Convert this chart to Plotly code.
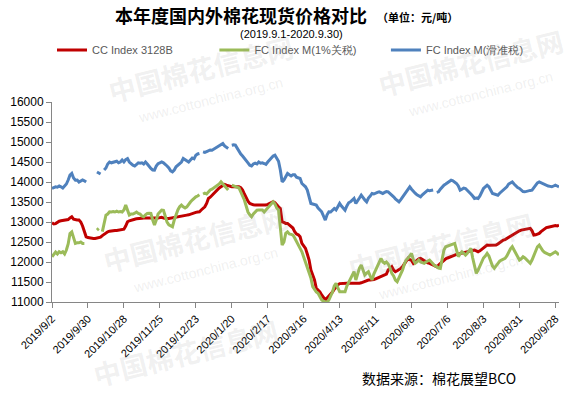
import pandas as pd
import plotly.graph_objects as go

# ---------------- data ----------------
dates = pd.bdate_range("2019-09-02", "2020-09-30")
categories = [f"{d.year}/{d.month}/{d.day}" for d in dates]

tick_labels = ["2019/9/2", "2019/9/30", "2019/10/28", "2019/11/25", "2019/12/23",
               "2020/1/20", "2020/2/17", "2020/3/16", "2020/4/13", "2020/5/11",
               "2020/6/8", "2020/7/6", "2020/8/3", "2020/8/31", "2020/9/28"]

series_names = ["CC Index 3128B", "FC Index M(1%关税)", "FC Index M(滑准税)"]

cc_index = [
    12980, 12950, 12960, 13000, 13020, 13030, 13040, 13050, 13050, 13060,
    13100, 13130, 13070, 13050, 13050, 13050, 13000, 12900, 12750, 12630,
    12610, 12600, 12600, 12590, 12590, 12600, 12600, 12620, 12660, 12700,
    12740, 12755, 12770, 12780, 12780, 12790, 12790, 12798, 12800, 12800,
    12820, 12900, 13005, 13030, 13050, 13060, 13070, 13080, 13090, 13090,
    13095, 13100, 13100, 13100, 13100, 13095, 13090, 13090, 13090, 13100,
    13110, 13120, 13100, 13090, 13090, 13090, 13100, 13110, 13120, 13130,
    13130, 13140, 13150, 13160, 13170, 13172, 13180, 13200, 13220, 13230,
    13240, 13250, 13255, 13300, 13350, 13380, 13464, 13589, 13620, 13671,
    13720, 13754, 13800, 13850, 13880, 13920, 13940, 13920, 13900, 13880,
    13880, 13880, 13880, 13880, 13880, 13860, 13800, 13700, 13600, 13520,
    13464, 13440, 13430, 13422, 13420, 13420, 13422, 13420, 13420, 13422,
    13440, 13460, 13480, 13505, 13480, 13420, 13380, 13340, 13005, 12990,
    12965, 12965, 12930, 12900, 12850, 12755, 12700, 12680, 12630, 12465,
    12400, 12340, 12200, 12049, 11800, 11675, 11550, 11342, 11300, 11250,
    11175, 11100, 11050, 11100, 11150, 11175, 11250, 11320, 11383, 11430,
    11460, 11467, 11467, 11467, 11470, 11467, 11467, 11460, 11467, 11467,
    11467, 11470, 11480, 11500, 11520, 11540, 11550, 11550, 11550, 11560,
    11580, 11600, 11633, 11650, 11670, 11675, 11700, 11800, 11841, 11883,
    11800, 11758, 11780, 11800, 11840, 11883, 11950, 12030, 12091, 12060,
    12040, 11966, 12000, 12050, 12080, 12091, 12060, 12030, 12000, 11980,
    11966, 11940, 11920, 11900, 11883, 11920, 11960, 12000, 12049, 12080,
    12100, 12120, 12150, 12170, 12174, 12190, 12200, 12210, 12216, 12230,
    12240, 12250, 12257, 12270, 12290, 12298, 12280, 12257, 12280, 12320,
    12360, 12400, 12423, 12420, 12420, 12423, 12430, 12423, 12450, 12490,
    12520, 12548, 12560, 12590, 12620, 12650, 12673, 12700, 12730, 12760,
    12780, 12798, 12810, 12820, 12830, 12840, 12840, 12780, 12673, 12680,
    12700, 12715, 12760, 12800, 12840, 12860, 12870, 12881, 12890, 12900,
    12910, 12900, 12923,
]

fc_index_1pct = [
    12130, 12200, 12250, 12200, 12256, 12230, 12256, 12200, 12300, 12450,
    12715, 12755, 12600, 12465, 12480, 12480, 12500, 12465, 12465, None,
    None, None, None, None, None, 12798, 12840, None, 12760, 12950,
    13172, 13200, 13255, 13250, 13260, 13250, 13270, 13250, 13260, 13250,
    13300, 13422, 13300, 13172, 13200, 13200, 13220, 13250, 13215, 13200,
    13150, 13130, 13180, 13215, 13220, 13215, 13050, 12923, 13050, 13200,
    13250, 13297, 13290, 13150, 13000, 12930, 12900, 12881, 13050, 13200,
    13300, 13380, 13422, 13380, 13350, 13380, 13450, 13500, 13550, 13600,
    13629, 13650, 13680, None, 13700, 13720, 13700, 13750, 13800, 13820,
    13850, 13880, 13900, 13950, 14003, 13950, 13880, 13850, 13800, None,
    13921, 13900, 13880, 13870, 13850, 13750, 13650, 13550, 13400, 13250,
    13180, 13130, 13200, 13250, 13297, 13300, 13297, 13300, 13250, 13297,
    13350, 13400, 13450, 13505, 13450, 13350, 13300, 12800, 12423, 12500,
    12715, 12755, 12700, 12690, 12673, 12600, 12500, 12420, 12340, 12256,
    12130, 12007, 11850, 11717, 11600, 11383, 11300, 11250, 11217, 11120,
    11050, 11020, 11000, 10990, 11050, 11134, 11250, 11400, 11467, 11350,
    11258, 11258, 11260, 11258, 11400, 11500, 11592, 11700, 11758, 11550,
    11700, 11850, 11925, 11800, 11675, 11720, 11758, 11650, 11550, 11700,
    11800, 11883, 12000, 12091, 12000, 11966, 12000, 11950, 11850, 11717,
    11650, 11550, 11508, 11600, 11700, 11800, 11950, 12050, 12091, 12150,
    12216, 12050, 11966, 12000, 12049, 12000, 11980, 11966, 12000, 12030,
    12049, 12000, 11950, 11900, 11883, 11850, 11841, 12050, 12300, 12382,
    12400, 12423, 12440, 12460, 12465, 12300, 12132, 12200, 12256, 12220,
    12174, 12220, 12280, 12340, 12100, 11883, 11717, 11800, 11900, 12007,
    12100, 12150, 12216, 12150, 12000, 11900, 11841, 11900, 11980, 12020,
    12049, 12070, 12091, 12150, 12250, 12330, 12382, 12300, 12200, 12100,
    12049, 12080, 12132, 12100, 12050, 12000, 11966, 12050, 12150, 12280,
    12380, 12423, 12350, 12280, 12240, 12216, 12200, 12174, 12200, 12240,
    12256, 12220, 12174,
]

fc_index_sliding = [
    13840, 13860, 13880, 13870, 13900, 13880, 13850, 13900, 13950, 14050,
    14170, 14213, 14100, 14046, 14050, 14000, 14020, 14050, 14030, 14000,
    None, None, None, None, None, 14250, 14230, 14200, None, 14300,
    14350, 14450, 14500, 14480, 14500, 14500, 14520, 14480, 14500, 14550,
    14500, 14560, 14587, 14500, 14450, 14420, 14400, 14450, 14480, 14470,
    14480, 14450, 14500, 14450, 14380, 14337, 14300, 14295, 14400, 14460,
    14480, 14500, 14480, 14450, 14400, 14350, 14280, 14253, 14300, 14380,
    14420, 14450, 14500, 14587, 14560, 14530, 14500, 14550, 14600, 14580,
    14670, 14700, 14712, None, 14752, 14740, 14760, 14780, 14800, 14795,
    14820, 14850, 14880, 14900, 14920, 14962, 14900, 14870, 14837, None,
    14920, 14930, 14920, 14850, 14750, 14700, 14650, 14600, 14550, 14480,
    14420, 14400, 14450, 14470, 14450, 14500, 14470, 14480, 14462, 14440,
    14500, 14550, 14620, 14650, 14670, 14600, 14520, 14300, 14003, 14050,
    14150, 14213, 14180, 14150, 14180, 14180, 14120, 14100, 14087, 13963,
    13920, 13880, 13796, 13650, 13464, 13450, 13430, 13422, 13350, 13300,
    13255, 13150, 13047, 13180, 13255, 13250, 13300, 13339, 13300, 13380,
    13464, 13400, 13350, 13297, 13400, 13480, 13504, 13550, 13589, 13464,
    13550, 13600, 13671, 13600, 13550, 13504, 13600, 13650, 13713, 13700,
    13730, 13740, 13754, 13730, 13713, 13740, 13760, 13754, 13720, 13680,
    13629, 13580, 13530, 13504, 13560, 13620, 13671, 13750, 13820, 13880,
    13820, 13754, 13720, 13680, 13650, 13629, 13680, 13720, 13760, 13796,
    13780, 13796, 13800, None, 13740, 13754, 13820, 13880, 13921, 13950,
    13990, 14020, 14046, 14030, 14000, 13963, 13900, 13796, 13820, 13850,
    13838, 13800, 13750, 13700, 13650, 13589, 13600, 13589, 13650, 13750,
    13838, 13880, 13921, 13880, 13800, 13713, 13700, 13680, 13671, 13720,
    13760, 13796, 13820, 13880, 13950, 13980, 14003, 13950, 13900, 13860,
    13838, 13800, 13760, 13754, 13770, 13780, 13790, 13796, 13850, 13920,
    13980, 14003, 13980, 13950, 13930, 13921, 13900, 13890, 13880, 13900,
    13921, 13900, 13880,
]

y_ticks = [11000, 11500, 12000, 12500, 13000, 13500, 14000, 14500, 15000, 15500, 16000]

# ---------------- styling ----------------
W, H = 577, 394
ML, MR, MT, MB = 52, 18, 102, 92
PW, PH = W - ML - MR, H - MT - MB
colors = ["#C00000", "#9BBB59", "#4F81BD"]
AX = "#868686"
FONT = "Liberation Sans"
CJK = "Noto Sans CJK SC"
pads = ["\u00a0" * 12, "\u00a0" * 8, ""]


def px(x):
    return (x - ML) / PW


def py(y):
    return (H - MB - y) / PH


def note(x, y, text, font, angle=0):
    return dict(x=px(x), y=py(y), xref="paper", yref="paper", text=text,
                showarrow=False, xanchor="center", yanchor="middle",
                textangle=angle, font=font)


fig = go.Figure()
for name, pad, vals, c in zip(series_names, pads,
                              [cc_index, fc_index_1pct, fc_index_sliding], colors):
    fig.add_trace(go.Scatter(x=categories, y=vals, name=name + pad, mode="lines",
                             line=dict(color=c, width=3), connectgaps=False))

annotations = []

# faint tiled watermark
WM = "rgba(150,150,150,0.15)"
for (cx, cy, url) in [(200, 68, True), (470, 62, True), (195, 238, True),
                      (440, 245, True), (185, 352, False)]:
    annotations.append(note(cx, cy, "<b>中国棉花信息网</b>",
                            dict(family=CJK, size=27, color=WM), -14))
    if url:
        annotations.append(note(cx + 10, cy + 32, "www.cottonchina.org.cn",
                                dict(family=FONT, size=14, color=WM), -14))

annotations += [
    note(241, 15, "<b>本年度国内外棉花现货价格对比</b>", dict(family=CJK, size=18, color="#000000")),
    note(417, 17, "<b>（单位：元/吨）</b>", dict(family=CJK, size=11, color="#000000")),
    note(291, 34, "(2019.9.1-2020.9.30)", dict(family=FONT, size=11, color="#000000")),
    note(439, 378, "数据来源：棉花展望BCO", dict(family=CJK, size=14, color="#000000")),
]

fig.update_layout(
    width=W, height=H,
    margin=dict(l=ML, r=MR, t=MT, b=MB, autoexpand=False),
    paper_bgcolor="white", plot_bgcolor="white",
    font=dict(family=FONT, size=11, color="#000000"),
    showlegend=True,
    legend=dict(orientation="h", xref="container", yref="container",
                x=52 / W, y=1 - 50 / H, xanchor="left", yanchor="middle",
                font=dict(family=FONT, size=11, color="#595959"),
                bgcolor="rgba(0,0,0,0)", itemwidth=30, tracegroupgap=0),
    annotations=annotations,
    xaxis=dict(type="category", categoryorder="array", categoryarray=categories,
               range=[0, len(categories) - 1], tickmode="array",
               tickvals=tick_labels, ticktext=tick_labels, tickangle=-45,
               automargin=False,
               showgrid=False, zeroline=False, showline=True, linecolor=AX, linewidth=1,
               ticks="outside", ticklen=5, tickcolor=AX,
               tickfont=dict(family=FONT, size=11, color="#000000")),
    yaxis=dict(range=[11000, 16000], tickmode="array", tickvals=y_ticks,
               ticktext=[str(v) for v in y_ticks], automargin=False,
               showgrid=False, zeroline=False, showline=True, linecolor=AX, linewidth=1,
               ticks="outside", ticklen=5, tickcolor=AX,
               tickfont=dict(family=FONT, size=12, color="#000000")),
)

fig.write_html("out.html", config={"displayModeBar": False},
               post_script="document.body.style.margin='0';document.body.style.overflow='hidden';")
